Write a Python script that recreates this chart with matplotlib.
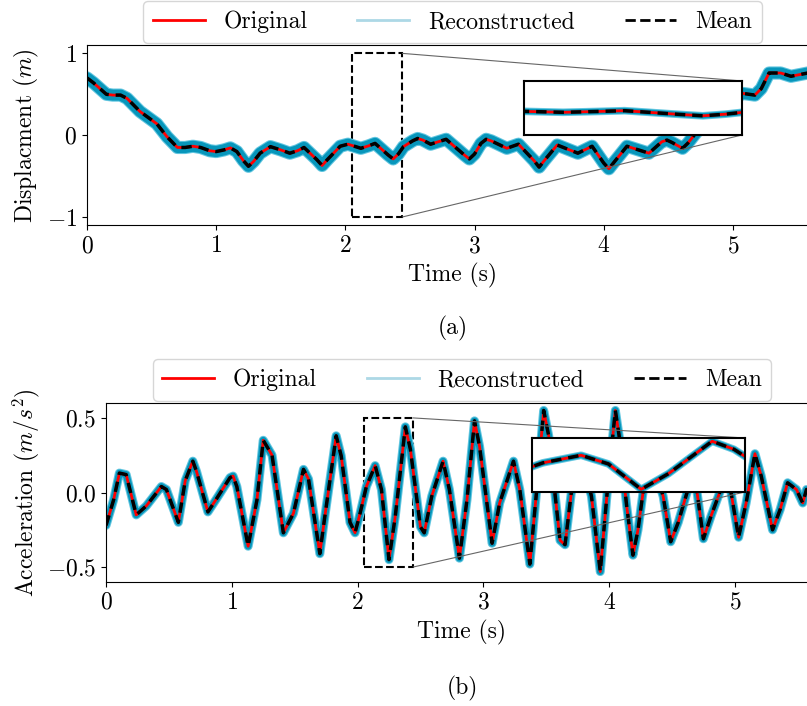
import numpy as np
import matplotlib
matplotlib.use("Agg")
import matplotlib.pyplot as plt
from matplotlib.lines import Line2D
from mpl_toolkits.axes_grid1.inset_locator import mark_inset

plt.rcParams["font.family"] = "serif"
plt.rcParams["font.serif"] = ["cmr10", "DejaVu Serif"]
plt.rcParams["mathtext.fontset"] = "cm"
plt.rcParams["axes.formatter.use_mathtext"] = True
plt.rcParams["font.size"] = 17

# -----------------------------
# Displacement
# -----------------------------
t_disp = [0.00, 0.05, 0.10, 0.15, 0.20, 0.26, 0.31, 0.41, 0.54, 0.62, 0.70, 0.76, 0.82, 0.88,
          0.95, 1.00, 1.06, 1.11, 1.16, 1.21, 1.25, 1.29, 1.34, 1.42, 1.50, 1.57, 1.63, 1.68,
          1.78, 1.82, 1.86, 1.96, 2.02, 2.12, 2.18, 2.23, 2.33, 2.37, 2.41, 2.45, 2.52, 2.56,
          2.60, 2.66, 2.72, 2.78, 2.92, 2.96, 3.00, 3.05, 3.09, 3.13, 3.25, 3.34, 3.46, 3.50,
          3.54, 3.64, 3.80, 3.91, 4.00, 4.04, 4.08, 4.18, 4.35, 4.45, 4.49, 4.53, 4.61, 4.65,
          4.70, 4.80, 4.95, 5.08, 5.17, 5.22, 5.28, 5.37, 5.45, 5.58, 5.66]
disp = [0.70, 0.64, 0.57, 0.50, 0.49, 0.49, 0.45, 0.29, 0.14, -0.02, -0.15, -0.15, -0.135, -0.15,
        -0.19, -0.20, -0.18, -0.155, -0.20, -0.31, -0.38, -0.32, -0.22, -0.14, -0.18, -0.22, -0.19, -0.15,
        -0.30, -0.37, -0.30, -0.135, -0.11, -0.16, -0.13, -0.10, -0.24, -0.29, -0.23, -0.14, -0.07, -0.04,
        -0.06, -0.11, -0.08, -0.05, -0.24, -0.29, -0.23, -0.10, -0.05, -0.07, -0.16, -0.11, -0.31, -0.39,
        -0.31, -0.12, -0.22, -0.135, -0.34, -0.41, -0.33, -0.135, -0.22, -0.08, -0.06, -0.09, -0.16, -0.10,
        0.00, 0.20, 0.42, 0.51, 0.49, 0.57, 0.76, 0.76, 0.72, 0.76, 0.74]

# -----------------------------
# Acceleration
# -----------------------------
t_acc = [0.00, 0.06, 0.106, 0.16, 0.24, 0.32, 0.44, 0.48, 0.575, 0.63, 0.69,
         0.72, 0.81, 0.88, 0.986, 1.01, 1.04, 1.13, 1.20, 1.25, 1.32, 1.41,
         1.49, 1.57, 1.61, 1.70, 1.74, 1.83, 1.87, 1.94, 1.98, 2.02, 2.07,
         2.14, 2.19, 2.25, 2.30, 2.38, 2.42, 2.50, 2.53, 2.59, 2.68, 2.73,
         2.81, 2.87, 2.93, 2.97, 3.07, 3.13, 3.24, 3.29, 3.37, 3.42, 3.48,
         3.52, 3.61, 3.65, 3.70, 3.77, 3.86, 3.93, 3.985, 4.05, 4.08, 4.14,
         4.19, 4.23, 4.27, 4.33, 4.43, 4.49, 4.55, 4.62, 4.68, 4.70, 4.75,
         4.81, 4.88, 4.93, 4.97, 5.03, 5.09, 5.16, 5.21, 5.30, 5.36, 5.42,
         5.49, 5.54, 5.57, 5.66]
acc = [-0.22, -0.05, 0.13, 0.12, -0.15, -0.09, 0.04, 0.02, -0.20, 0.08, 0.21,
       0.14, -0.13, -0.04, 0.10, 0.11, 0.04, -0.36, -0.05, 0.35, 0.25, -0.27,
       -0.14, 0.155, 0.09, -0.41, -0.16, 0.38, 0.245, -0.20, -0.27, -0.14, 0.04,
       0.18, 0.02, -0.45, -0.16, 0.44, 0.29, -0.23, -0.27, -0.025, 0.21, 0.02,
       -0.44, -0.05, 0.48, 0.31, -0.34, -0.07, 0.21, 0.02, -0.48, -0.025, 0.55,
       0.38, -0.32, -0.35, 0.00, 0.28, -0.025, -0.53, 0.00, 0.55, 0.38, -0.09,
       -0.42, -0.25, 0.00, 0.25, -0.025, -0.33, -0.20, 0.00, 0.30, 0.00, -0.31,
       -0.16, 0.00, 0.30, 0.00, -0.30, -0.07, 0.26, 0.11, -0.25, -0.115, 0.065,
       0.02, -0.07, 0.02, -0.04]

zoom_t = (2.05, 2.44)

band_outer = "#62c6e0"
band_inner = "#0796bb"


# reconstructed spread is drawn as a wide stroke so it keeps its width on steep slopes
def draw_signal(ax, t, y, band_lw):
    ax.plot(t, y, color=band_outer, lw=band_lw + 1.5, solid_joinstyle="round",
            solid_capstyle="round")
    ax.plot(t, y, color=band_inner, lw=band_lw, solid_joinstyle="round",
            solid_capstyle="round")
    ax.plot(t, y, color="red", lw=2)
    ax.plot(t, y, color="black", lw=2.5, linestyle=(0, (3, 2)))


def add_legend(ax):
    handles = [Line2D([], [], color="red", lw=2),
               Line2D([], [], color="lightblue", lw=2),
               Line2D([], [], color="black", lw=2, linestyle="--")]
    ax.legend(handles, ["Original", "Reconstructed", "Mean"], ncol=3,
              loc="lower center", bbox_to_anchor=(0.5, 1.0), borderaxespad=0.1,
              handlelength=2.2, columnspacing=2.1, fontsize=17)


def add_zoom(fig, ax, rect, t, y, band_lw, ylim):
    axins = fig.add_axes(rect)
    draw_signal(axins, t, y, band_lw)
    axins.set_xlim(*zoom_t)
    axins.set_ylim(*ylim)
    axins.set_xticks([])
    axins.set_yticks([])
    for s in axins.spines.values():
        s.set_linewidth(1.5)
    pp, p1, p2 = mark_inset(ax, axins, loc1=1, loc2=4, fc="none", ec="0.4", lw=0.8)
    pp.set_edgecolor("black")
    pp.set_linestyle("--")
    pp.set_linewidth(1.5)


fig = plt.figure(figsize=(8.07, 7.06), dpi=100)

# (a) displacement
ax1 = fig.add_axes([0.1078, 0.681, 0.906, 0.255])
draw_signal(ax1, t_disp, disp, 8)
ax1.set_xlim(0, 5.66)
ax1.set_ylim(-1.1, 1.1)
ax1.set_xticks([0, 1, 2, 3, 4, 5])
ax1.set_yticks([-1, 0, 1])
ax1.set_xlabel("Time (s)")
ax1.set_ylabel("Displacment ($m$)")
add_legend(ax1)
add_zoom(fig, ax1, [0.6493, 0.8088, 0.2701, 0.0765], t_disp, disp, 4, (-1, 1))
fig.text(0.5607, 0.535, "(a)", ha="center", va="center", fontsize=17)

# (b) acceleration
ax2 = fig.add_axes([0.1314, 0.1756, 0.882, 0.2536])
draw_signal(ax2, t_acc, acc, 5)
ax2.set_xlim(0, 5.66)
ax2.set_ylim(-0.6, 0.6)
ax2.set_xticks([0, 1, 2, 3, 4, 5])
ax2.set_yticks([-0.5, 0.0, 0.5])
ax2.set_xlabel("Time (s)")
ax2.set_ylabel("Acceleration ($m/s^2$)")
add_legend(ax2)
add_zoom(fig, ax2, [0.6592, 0.3031, 0.2639, 0.0765], t_acc, acc, 4, (-0.5, 0.5))
fig.text(0.5725, 0.0255, "(b)", ha="center", va="center", fontsize=17)

fig.savefig("out.png", dpi=100)
